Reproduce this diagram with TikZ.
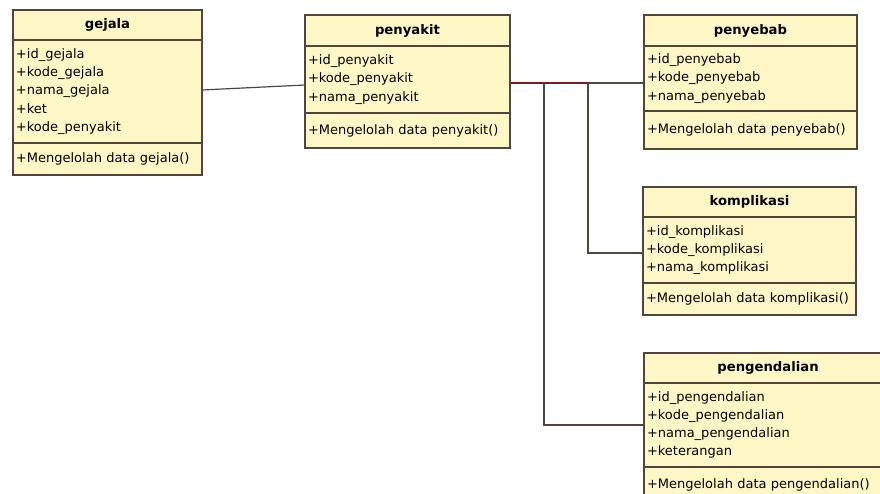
\documentclass[tikz,border=0pt]{standalone}
\usepackage{fontspec}
\setmainfont{DejaVu Sans}
\definecolor{umlfill}{RGB}{255,248,198}
\definecolor{umlline}{RGB}{80,70,60}
\definecolor{connred}{RGB}{120,30,30}
\definecolor{conngray}{RGB}{80,70,64}
\begin{document}
\begin{tikzpicture}[x=1pt,y=-1pt,
  cpart/.style={draw=umlline, fill=umlfill, line width=1.2pt, inner sep=0pt, outer sep=0pt, anchor=north west},
  ctitle/.style={cpart, font=\fontsize{13.2}{16}\selectfont\bfseries},
  cbody/.style={cpart, align=left, inner xsep=3pt, font=\fontsize{13}{18.2}\selectfont},
  conn/.style={draw=conngray, line width=1.2pt},
  connr/.style={draw=connred, line width=1.4pt}]
\useasboundingbox (0,0) rectangle (880,494);
\fill[white] (0,0) rectangle (880,494);

% gejala
\node[ctitle, minimum width=189pt, minimum height=30pt] (gejala) at (13,10) {gejala};
\node[cbody, text width=183pt, minimum height=103pt] (gejala-a) at (gejala.south west)
  {+id\_gejala\\+kode\_gejala\\+nama\_gejala\\+ket\\+kode\_penyakit};
\node[cbody, text width=183pt, minimum height=32pt] (gejala-m) at (gejala-a.south west)
  {+Mengelolah data gejala()};

% penyakit
\node[ctitle, minimum width=205pt, minimum height=31pt] (penyakit) at (305,15) {penyakit};
\node[cbody, text width=199pt, minimum height=67pt] (penyakit-a) at (penyakit.south west)
  {+id\_penyakit\\+kode\_penyakit\\+nama\_penyakit};
\node[cbody, text width=199pt, minimum height=35pt] (penyakit-m) at (penyakit-a.south west)
  {+Mengelolah data penyakit()};

% penyebab
\node[ctitle, minimum width=213pt, minimum height=31pt] (penyebab) at (644,15) {penyebab};
\node[cbody, text width=207pt, minimum height=65pt] (penyebab-a) at (penyebab.south west)
  {+id\_penyebab\\+kode\_penyebab\\+nama\_penyebab};
\node[cbody, text width=207pt, minimum height=38pt] (penyebab-m) at (penyebab-a.south west)
  {+Mengelolah data penyebab()};

% komplikasi
\node[ctitle, minimum width=213pt, minimum height=30pt] (komplikasi) at (643,187) {komplikasi};
\node[cbody, text width=207pt, minimum height=66pt] (komplikasi-a) at (komplikasi.south west)
  {+id\_komplikasi\\+kode\_komplikasi\\+nama\_komplikasi};
\node[cbody, text width=207pt, minimum height=32pt] (komplikasi-m) at (komplikasi-a.south west)
  {+Mengelolah data komplikasi()};

% pengendalian (runs past the right edge)
\node[ctitle, minimum width=248pt, minimum height=30pt] (pengendalian) at (644,353) {pengendalian};
\node[cbody, text width=242pt, minimum height=84pt] (pengendalian-a) at (pengendalian.south west)
  {+id\_pengendalian\\+kode\_pengendalian\\+nama\_pengendalian\\+keterangan};
\node[cbody, text width=242pt, minimum height=36pt] (pengendalian-m) at (pengendalian-a.south west)
  {+Mengelolah data pengendalian()};

% associations
\coordinate (pr) at ([yshift=-37pt]penyakit-a.north east);
\coordinate (j1) at (544,83);
\coordinate (j2) at (588,83);
\draw[conn] ([yshift=-50pt]gejala-a.north east) -- ([yshift=-39pt]penyakit-a.north west);
\draw[conn] (pr) -- (pr -| penyebab-a.west);
\draw[conn] (j1) |- (pengendalian-a.west);
\draw[conn] (j2) |- ([yshift=-3pt]komplikasi-a.west);
\draw[connr] (pr) -- (j2);
\end{tikzpicture}
\end{document}
